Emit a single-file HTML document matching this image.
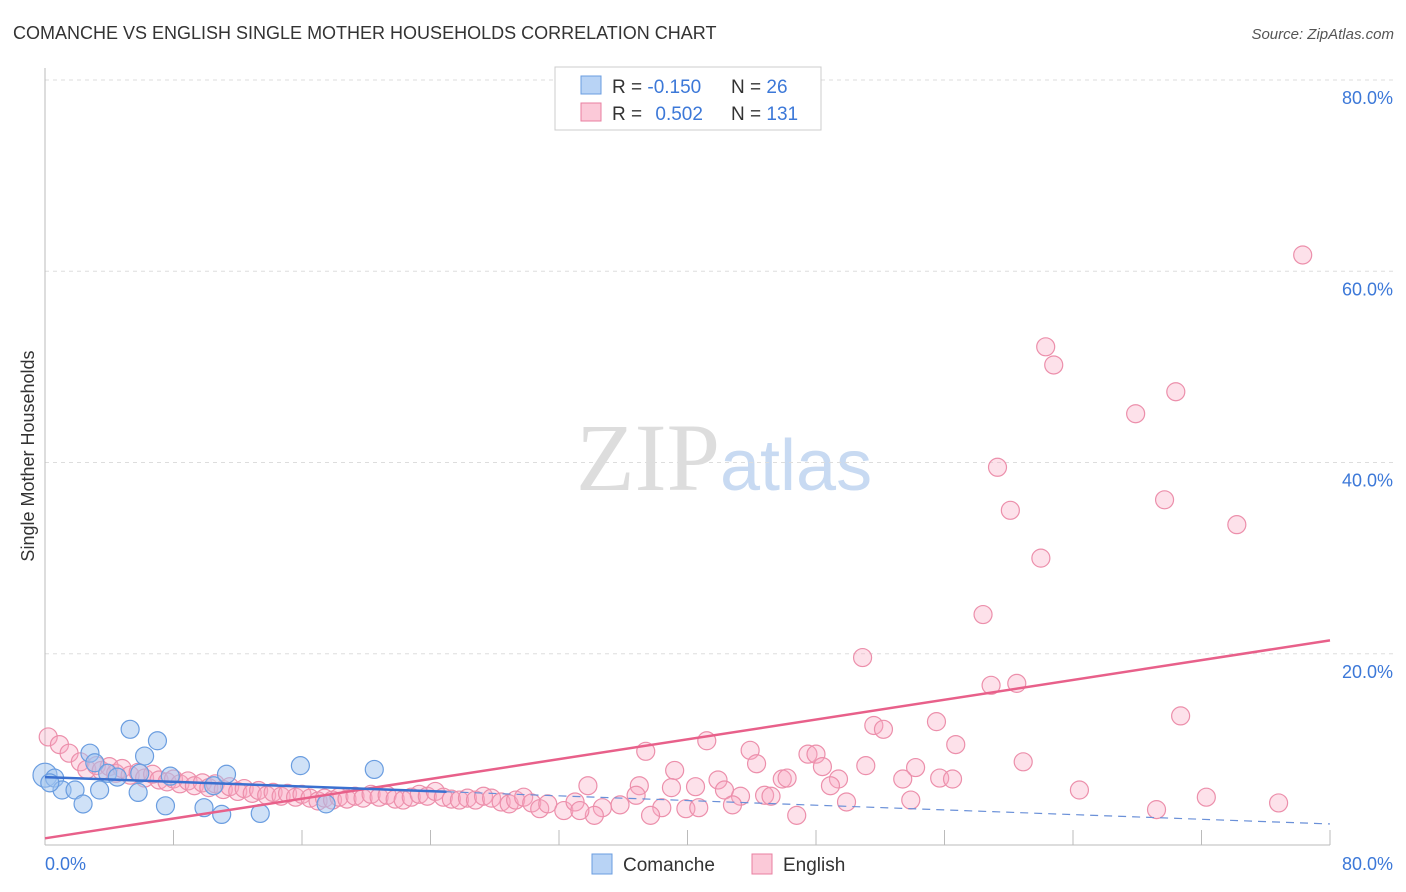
<!DOCTYPE html>
<html><head><meta charset="utf-8"><style>
body{margin:0;background:#fff;font-family:"Liberation Sans",sans-serif;}
#wrap{position:relative;width:1406px;height:892px;overflow:hidden}
</style></head><body>
<div id="wrap">
<svg id="svg" width="1406" height="892" xmlns="http://www.w3.org/2000/svg">
<text x="13" y="39" font-size="18" fill="#333">COMANCHE VS ENGLISH SINGLE MOTHER HOUSEHOLDS CORRELATION CHART</text>
<text x="1394" y="39" font-size="15" fill="#555" font-style="italic" text-anchor="end">Source: ZipAtlas.com</text>
<text transform="translate(34,456) rotate(-90)" font-size="18" fill="#333" text-anchor="middle">Single Mother Households</text>
<text x="720" y="490" font-size="96" fill="#ddd" text-anchor="end" font-family="Liberation Serif,serif">ZIP</text>
<text x="720" y="490" font-size="72" fill="#c8daf2">atlas</text>
<g id="grid"></g><g id="axes"></g><g id="pts"></g><g id="lines"></g>
<g>
<rect x="555" y="67" width="266" height="63" fill="#fff" stroke="#ccc"/>
<rect x="581" y="76" width="20" height="18" fill="#b8d3f5" stroke="#6a9de0"/>
<rect x="581" y="103" width="20" height="18" fill="#fbc9d8" stroke="#e87fa0"/>
<text x="612" y="93" font-size="19" fill="#333">R = <tspan fill="#3c78d8">-0.150</tspan><tspan x="731">N = </tspan><tspan fill="#3c78d8">26</tspan></text>
<text x="612" y="120" font-size="19" fill="#333">R = <tspan fill="#3c78d8" dx="8">0.502</tspan><tspan x="731">N = </tspan><tspan fill="#3c78d8">131</tspan></text>
</g>
<g>
<rect x="592" y="854" width="20" height="20" fill="#b8d3f5" stroke="#6a9de0"/>
<text x="623" y="871" font-size="19" fill="#333">Comanche</text>
<rect x="752" y="854" width="20" height="20" fill="#fbc9d8" stroke="#e87fa0"/>
<text x="783" y="871" font-size="19" fill="#333">English</text>
</g>
<text x="45" y="870" font-size="18" fill="#3c78d8">0.0%</text>
<text x="1393" y="870" font-size="18" fill="#3c78d8" text-anchor="end">80.0%</text>
</svg>
</div>
<script>
const yTicks=[20,40,60,80];
const comancheX=[0,0.6,1.06,1.87,2.37,2.8,3.1,3.4,3.9,4.5,5.3,5.8,6.2,7.0,5.9,7.5,7.8,9.9,10.5,11.0,11.3,13.4,15.9,17.5,20.5,0.3];
const comancheY=[7.3,7.0,5.75,5.75,4.29,9.6,8.6,5.75,7.5,7.1,12.1,5.5,9.3,10.9,7.5,4.1,7.2,3.9,6.2,3.2,7.4,3.3,8.3,4.3,7.9,6.5];
const englishX=[78.3,62.3,62.8,70.4,67.9,59.3,69.7,60.1,74.2,62.0,58.4,50.9,58.9,60.5,70.7,51.6,52.2,55.5,56.7,41.2,37.4,43.9,47.5,48.0,60.9,44.3,48.4,51.1,54.2,39.2,41.9,45.9,46.2,49.4,53.4,55.7,56.5,40.5,42.3,39.0,37.0,48.9,33.8,36.8,43.3,44.8,45.2,64.4,72.3,49.9,53.9,42.8,38.4,39.9,40.7,35.8,34.7,34.2,69.2,76.8,46.8,37.7,
0.2,0.9,1.5,2.2,2.6,3.2,3.5,4.0,4.4,4.8,5.3,5.8,6.2,6.7,7.1,7.6,8.0,8.4,8.9,9.3,9.8,10.2,10.6,11.1,11.5,12.0,12.4,12.9,13.3,13.8,14.2,14.7,15.1,15.6,16.0,16.5,17.0,17.4,17.9,18.3,18.8,19.3,19.8,20.3,20.8,21.3,21.8,22.3,22.8,23.3,23.8,24.3,24.8,25.3,25.8,26.3,26.8,27.3,27.8,28.4,28.9,29.3,29.8,30.3,30.8,31.3,32.3,33.0,33.3];
const englishY=[61.7,52.1,50.2,47.4,45.1,39.5,36.1,35.0,33.5,30.0,24.1,19.6,16.7,16.9,13.5,12.5,12.1,12.9,10.5,10.9,9.8,9.9,9.5,9.5,8.7,8.5,8.2,8.3,8.1,7.8,6.8,6.9,7.0,6.9,6.9,7.0,6.9,6.1,5.75,6.0,6.2,6.2,6.2,5.2,5.1,5.2,5.1,5.75,5.0,4.5,4.7,4.2,3.9,3.8,3.9,4.2,3.9,3.1,3.7,4.4,3.1,3.1,
11.3,10.5,9.6,8.7,7.9,8.3,7.8,8.2,7.5,8.0,7.3,7.6,7.0,7.4,6.8,6.6,6.9,6.4,6.7,6.2,6.5,6.0,6.4,5.8,6.1,5.6,5.9,5.4,5.7,5.2,5.5,5.1,5.4,5.0,5.3,4.9,4.6,4.9,4.7,5.0,4.8,5.1,4.9,5.3,5.0,5.2,4.8,4.7,5.0,5.3,5.1,5.6,5.0,4.8,4.7,4.9,4.7,5.1,4.9,4.5,4.3,4.7,5.0,4.4,3.8,4.3,3.6,4.5,3.6];
const englishTrend=[0.7,21.4];
const comancheTrend=[7.1,2.2];
const comancheSolidEnd=25;
const NS='http://www.w3.org/2000/svg';
const sx=v=>45+v/80*1285, sy=v=>845-v/80*765;
function mk(tag,attrs,parent){const e=document.createElementNS(NS,tag);for(const k in attrs)e.setAttribute(k,attrs[k]);parent.appendChild(e);return e;}
const grid=document.getElementById('grid'),axes=document.getElementById('axes'),pts=document.getElementById('pts'),lines=document.getElementById('lines');
yTicks.forEach(t=>{
 const l=mk('line',{x1:45,x2:1393,y1:sy(t),y2:sy(t),stroke:'#ddd','stroke-dasharray':'4,4'},grid);
 
 
 const tx=mk('text',{x:1393,y:sy(t)+24,'font-size':18,fill:'#3c78d8','text-anchor':'end'},grid);
 tx.textContent=t.toFixed(1)+'%';
 
 
});
const ya=mk('line',{x1:45,x2:45,y1:68,y2:845,stroke:'#bbb'},axes);


const xa=mk('line',{x1:45,x2:1330,y1:845,y2:845,stroke:'#bbb'},axes);


for(let i=1;i<=10;i++){const x=sx(i*8);const tk=mk('line',{x1:x,x2:x,y1:830,y2:845,stroke:'#bbb'},axes);
 
 }
englishX.forEach((v,i)=>{const c=mk('circle',{cx:sx(v),cy:sy(englishY[i]),r:9,fill:'rgba(248,170,195,0.35)',stroke:'#ec8fab','stroke-width':1.2},pts);
 
 });
comancheX.forEach((v,i)=>{const c=mk('circle',{cx:sx(v),cy:sy(comancheY[i]),r:i===0?12:9,fill:'rgba(160,195,240,0.5)',stroke:'#6a9de0','stroke-width':1.2},pts);
 
 });
const ct=x=>comancheTrend[0]+(comancheTrend[1]-comancheTrend[0])*x/80;
const l1=mk('line',{x1:sx(0),y1:sy(englishTrend[0]),x2:sx(80),y2:sy(englishTrend[1]),stroke:'#e8608a','stroke-width':2.5},lines);


const l2=mk('line',{x1:sx(0),y1:sy(ct(0)),x2:sx(comancheSolidEnd),y2:sy(ct(comancheSolidEnd)),stroke:'#3a70d0','stroke-width':2.5},lines);


const l3=mk('line',{x1:sx(comancheSolidEnd),y1:sy(ct(comancheSolidEnd)),x2:sx(80),y2:sy(ct(80)),stroke:'#6a90d8','stroke-width':1.2,'stroke-dasharray':'8,6'},lines);


</script>
</body></html>
